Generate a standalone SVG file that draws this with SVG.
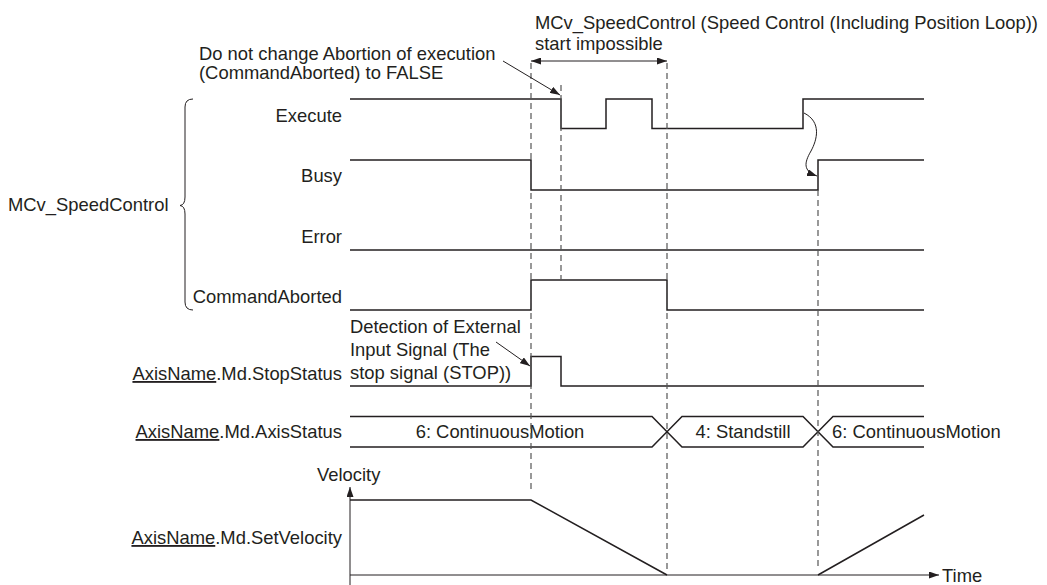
<svg xmlns="http://www.w3.org/2000/svg" width="1047" height="585" viewBox="0 0 1047 585">
<defs>
<style>
text{font-family:"Liberation Sans",Arial,sans-serif;font-size:18.4px;fill:#231f20}
.sig{fill:none;stroke:#231f20;stroke-width:1.5}
.dash{fill:none;stroke:#555;stroke-width:1.2;stroke-dasharray:6 4}
.thin{fill:none;stroke:#231f20;stroke-width:1}
.r{text-anchor:end}
.m{text-anchor:middle}
</style>
<marker id="ah" viewBox="0 0 10 7" refX="10" refY="3.5" markerWidth="10" markerHeight="7" markerUnits="userSpaceOnUse" orient="auto-start-reverse">
<path d="M0,0 L10,3.5 L0,7 z" fill="#231f20"/>
</marker>
</defs>
<rect width="1047" height="585" fill="#fff"/>

<g id="group-label">
<text x="8" y="211">MCv_SpeedControl</text>
<path class="thin" d="M193,99 Q185,99 185,107 L185,197 Q185,205 180,205.5 Q185,206 185,214 L185,302 Q185,310 193,310"/>
</g>

<g id="execute">
<text class="r" x="342" y="122">Execute</text>
<path class="sig" d="M350,99 H561 V128.5 H606 V99 H652 V128.5 H803 V99 H924"/>
</g>

<g id="busy">
<text class="r" x="342" y="182">Busy</text>
<path class="sig" d="M350,160 H531 V190 H818 V160 H924"/>
</g>

<g id="error">
<text class="r" x="342" y="243">Error</text>
<path class="sig" d="M350,250 H924"/>
</g>

<g id="commandaborted">
<text class="r" x="342" y="303">CommandAborted</text>
<path class="sig" d="M350,310 H531 V280 H667 V310 H924"/>
</g>

<g id="stopstatus">
<text class="r" x="342" y="380"><tspan text-decoration="underline">AxisName</tspan>.Md.StopStatus</text>
<path class="sig" d="M350,386 H531 V356.5 H561 V386 H924"/>
</g>

<g id="axisstatus">
<text class="r" x="342" y="438"><tspan text-decoration="underline">AxisName</tspan>.Md.AxisStatus</text>
<path class="sig" d="M350,416.5 H652 L682,447 H803 L833,416.5 H924 M350,447 H652 L682,416.5 H803 L833,447 H924"/>
<text class="m" x="500" y="438">6: ContinuousMotion</text>
<text class="m" x="743" y="438">4: Standstill</text>
<text x="832" y="438">6: ContinuousMotion</text>
</g>

<g id="setvelocity">
<text class="r" x="342" y="544"><tspan text-decoration="underline">AxisName</tspan>.Md.SetVelocity</text>
<text x="317" y="481">Velocity</text>
<text x="942" y="582">Time</text>
<path class="sig" d="M350,500 H531 L667,575 M818,575 L924,515"/>
</g>

<g id="connectors">
<line class="thin" x1="350" y1="585" x2="350" y2="487" marker-end="url(#ah)"/>
<line class="thin" x1="350" y1="575" x2="939" y2="575" marker-end="url(#ah)"/>
<line class="dash" x1="531" y1="63" x2="531" y2="492"/>
<line class="dash" x1="561" y1="85" x2="561" y2="280"/>
<line class="dash" x1="667" y1="63" x2="667" y2="570"/>
<line class="dash" x1="818" y1="190" x2="818" y2="570"/>
<line class="thin" x1="531" y1="61" x2="667" y2="61" marker-start="url(#ah)" marker-end="url(#ah)"/>
<line class="thin" x1="503" y1="61" x2="560" y2="95" marker-end="url(#ah)"/>
<line class="thin" x1="496" y1="342" x2="530" y2="366" marker-end="url(#ah)"/>
<path class="thin" d="M804,113 C822,122 817,140 811,151 C804,163 803,171 817,176" marker-end="url(#ah)"/>
</g>

<g id="annotations">
<text x="535" y="29">MCv_SpeedControl (Speed Control (Including Position Loop))</text>
<text x="535" y="50">start impossible</text>
<text x="199" y="60">Do not change Abortion of execution</text>
<text x="199" y="79">(CommandAborted) to FALSE</text>
<text x="350" y="333">Detection of External</text>
<text x="350" y="356">Input Signal (The</text>
<text x="350" y="379">stop signal (STOP))</text>
</g>
</svg>
